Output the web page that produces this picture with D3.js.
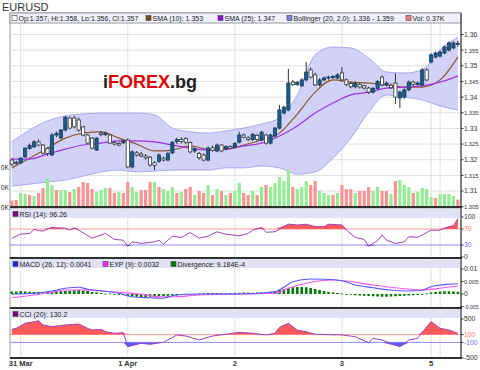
<!DOCTYPE html>
<html>
<head>
<meta charset="utf-8">
<script src="https://cdn.jsdelivr.net/npm/d3@7"></script>
<style>
body { margin: 0; background: #fff; }
svg { display: block; }
text { font-family: "Liberation Sans", Arial, sans-serif; }
</style>
</head>
<body>
<script>

// ---- data (hourly EURUSD bars) ----
var open = [1.3199,1.3189,1.3190,1.3209,1.3236,1.3241,1.3257,1.3247,1.3236,1.3215,
  1.3279,1.3270,1.3295,1.3333,1.3333,1.3327,1.3305,1.3279,1.3269,1.3231,
  1.3285,1.3280,1.3279,1.3255,1.3252,1.3254,1.3263,1.3177,1.3222,1.3218,
  1.3212,1.3208,1.3190,1.3195,1.3205,1.3199,1.3222,1.3258,1.3265,1.3268,
  1.3255,1.3228,1.3220,1.3215,1.3199,1.3238,1.3228,1.3247,1.3235,1.3242,
  1.3240,1.3256,1.3279,1.3270,1.3265,1.3278,1.3263,1.3279,1.3253,1.3276,
  1.3301,1.3349,1.3359,1.3448,1.3440,1.3436,1.3455,1.3487,1.3471,1.3439,
  1.3455,1.3461,1.3463,1.3461,1.3477,1.3455,1.3444,1.3433,1.3440,1.3436,
  1.3429,1.3416,1.3428,1.3464,1.3439,1.3438,1.3445,1.3397,1.3400,1.3423,
  1.3448,1.3440,1.3439,1.3487,1.3512,1.3528,1.3531,1.3541,1.3550,1.3557,1.3570];
var high = [1.3205,1.3197,1.3208,1.3240,1.3252,1.3263,1.3265,1.3250,1.3240,1.3285,
  1.3290,1.3298,1.3340,1.3338,1.3340,1.3335,1.3308,1.3282,1.3272,1.3272,
  1.3292,1.3290,1.3282,1.3260,1.3256,1.3264,1.3268,1.3230,1.3228,1.3225,
  1.3218,1.3212,1.3195,1.3220,1.3210,1.3225,1.3260,1.3270,1.3272,1.3272,
  1.3258,1.3240,1.3225,1.3220,1.3242,1.3245,1.3252,1.3250,1.3246,1.3246,
  1.3256,1.3290,1.3284,1.3275,1.3286,1.3283,1.3292,1.3283,1.3283,1.3305,
  1.3375,1.3372,1.3490,1.3455,1.3452,1.3460,1.3512,1.3495,1.3478,1.3460,
  1.3466,1.3468,1.3470,1.3476,1.3496,1.3460,1.3450,1.3450,1.3446,1.3440,
  1.3433,1.3432,1.3455,1.3470,1.3450,1.3443,1.3476,1.3420,1.3428,1.3453,
  1.3452,1.3450,1.3492,1.3492,1.3540,1.3546,1.3549,1.3565,1.3578,1.3578,1.3580];
var low = [1.3180,1.3184,1.3187,1.3205,1.3232,1.3238,1.3243,1.3216,1.3212,1.3212,
  1.3272,1.3265,1.3290,1.3298,1.3300,1.3290,1.3275,1.3250,1.3233,1.3228,
  1.3275,1.3276,1.3250,1.3246,1.3243,1.3250,1.3172,1.3172,1.3210,1.3208,
  1.3200,1.3178,1.3167,1.3190,1.3195,1.3195,1.3218,1.3250,1.3252,1.3250,
  1.3220,1.3222,1.3200,1.3195,1.3195,1.3226,1.3224,1.3224,1.3230,1.3233,
  1.3236,1.3252,1.3268,1.3260,1.3260,1.3260,1.3259,1.3248,1.3249,1.3272,
  1.3297,1.3345,1.3355,1.3435,1.3436,1.3432,1.3450,1.3460,1.3435,1.3435,
  1.3450,1.3456,1.3458,1.3457,1.3450,1.3435,1.3428,1.3428,1.3427,1.3424,
  1.3410,1.3412,1.3424,1.3434,1.3434,1.3426,1.3378,1.3365,1.3395,1.3419,
  1.3435,1.3436,1.3435,1.3450,1.3508,1.3524,1.3527,1.3537,1.3546,1.3553,1.3562];
var close = [1.3186,1.3192,1.3205,1.3237,1.3246,1.3257,1.3247,1.3221,1.3220,1.3279,
  1.3284,1.3295,1.3336,1.3301,1.3305,1.3295,1.3279,1.3253,1.3237,1.3269,
  1.3280,1.3286,1.3253,1.3250,1.3247,1.3260,1.3177,1.3225,1.3215,1.3212,
  1.3206,1.3183,1.3182,1.3215,1.3199,1.3220,1.3256,1.3264,1.3258,1.3255,
  1.3225,1.3235,1.3206,1.3199,1.3237,1.3230,1.3247,1.3228,1.3242,1.3237,
  1.3252,1.3279,1.3272,1.3264,1.3281,1.3265,1.3288,1.3253,1.3279,1.3301,
  1.3359,1.3368,1.3445,1.3440,1.3447,1.3455,1.3480,1.3464,1.3439,1.3455,
  1.3461,1.3464,1.3466,1.3471,1.3455,1.3440,1.3433,1.3444,1.3432,1.3429,
  1.3416,1.3428,1.3450,1.3439,1.3445,1.3430,1.3400,1.3416,1.3423,1.3448,
  1.3440,1.3445,1.3487,1.3455,1.3535,1.3541,1.3544,1.3560,1.3573,1.3573,1.3572];

// volume in thousands, and whether the bar is drawn green (1) or red (0)
var volume = [0.32,0.35,0.70,0.65,0.60,0.55,0.70,0.95,1.45,1.10,
  0.85,0.85,0.85,0.75,0.90,1.00,1.25,1.20,0.90,0.75,
  0.85,0.95,0.95,0.70,0.75,0.70,1.25,1.00,0.75,0.85,
  0.85,1.25,1.25,1.00,0.90,0.80,1.00,0.70,0.75,0.90,
  1.00,0.60,0.80,0.70,1.10,0.60,0.90,0.80,0.60,0.70,
  0.80,1.20,0.70,0.60,0.80,0.60,1.00,1.10,1.00,1.20,
  1.50,1.30,1.85,1.00,0.90,1.00,1.30,1.10,1.30,0.80,
  0.70,0.60,0.60,0.70,1.10,0.90,0.90,0.70,0.80,0.80,
  1.00,0.80,1.00,0.80,0.80,0.65,1.30,1.35,1.10,1.00,
  0.70,0.75,0.95,0.90,0.50,0.45,0.65,0.65,0.65,0.55,0.37];
var volUp = [0,0,1,1,0,1,0,0,1,1, 0,1,1,0,1,0,0,0,0,1,
  1,1,0,0,1,0,0,1,1,0, 0,0,1,0,1,1,1,0,1,0,
  0,1,0,0,1,0,1,0,1,0, 1,1,0,0,1,0,1,0,1,1,
  1,1,1,0,1,1,1,0,0,1, 1,1,0,1,0,0,0,1,0,0,
  0,1,1,0,0,1,0,1,1,1, 0,1,1,1,1,0,1,1,1,1,0];

// indicator lines, sampled along the bar index
var bandIdx = [0,4,8,12,16,20,24,28,32,36,40,44,48,52,56,60,64,68,72,76,80,84,88,92,96,100];
var sma10 = [1.3174,1.3205,1.3237,1.3269,1.3285,1.3289,1.3269,1.3250,1.3228,1.3231,1.3244,1.3234,1.3234,
  1.3247,1.3263,1.3285,1.3346,1.3416,1.3455,1.3448,1.3445,1.3439,1.3432,1.3432,1.3455,1.3528];
var sma25 = [1.3202,1.3202,1.3218,1.3234,1.3247,1.3253,1.3260,1.3260,1.3257,1.3247,1.3237,1.3231,1.3234,
  1.3244,1.3253,1.3276,1.3308,1.3349,1.3381,1.3407,1.3416,1.3429,1.3432,1.3436,1.3448,1.3467];
var bbUpper = [1.3257,1.3295,1.3324,1.3340,1.3346,1.3349,1.3349,1.3349,1.3343,1.3301,1.3289,1.3285,1.3292,
  1.3301,1.3314,1.3333,1.3407,1.3535,1.3560,1.3557,1.3525,1.3480,1.3477,1.3487,1.3551,1.3592];
var bbLower = [1.3116,1.3122,1.3129,1.3135,1.3148,1.3161,1.3167,1.3161,1.3164,1.3167,1.3167,1.3167,1.3174,
  1.3174,1.3180,1.3174,1.3154,1.3161,1.3205,1.3269,1.3352,1.3407,1.3400,1.3391,1.3372,1.3359];

var rsiIdx = [0,2,4,5,6,7,9,10,12,13,14,15,18,21,23,25,26,27,29,32,33,34,36,38,40,42,44,46,48,51,
  53,54,56,57,59,62,64,66,68,70,71,74,75,77,79,80,82,83,84,86,88,89,91,93,94,96,98,99,100];
var rsi = [47,57,59,69,66,65,74,73,72,67,73,67,47,59,44,42,27,38,34,38,42,32,52,49,61,47,52,63,57,53,
  59,67,74,62,63,82,80,82,76,76,82,80,67,49,44,27,41,55,42,34,38,51,49,61,67,67,76,78,96.3];

var macdIdx = [0,5,9,12,15,17,20,24,27,31,34,36,39,44,51,59,61,63,67,70,74,77,81,85,89,92,94,98,100];
var macd = [-0.0001,0.0003,0.0012,0.0023,0.0027,0.0019,0.0013,0.0003,-0.0011,-0.0015,-0.0017,-0.0007,
  -0.0001,0,0,0.0009,0.0027,0.0049,0.0060,0.0059,0.0053,0.0036,0.0025,0.0016,0.0012,0.0016,0.0029,0.0039,0.0041];
var sigIdx = [0,5,9,12,17,20,24,29,33,36,42,51,59,62,66,72,75,81,87,92,96,100];
var signal = [-0.0015,-0.0004,0.0007,0.0016,0.0016,0.0012,0.0007,-0.0001,-0.0011,-0.0011,-0.0004,0,
  0.0003,0.0023,0.0043,0.0056,0.0052,0.0036,0.0023,0.0016,0.0023,0.0032];
var divergence = [0.0010,0.0010,0.0011,0.0010,0.0009,0.0008,0.0008,0.0007,0.0008,0.0009,
  0.0010,0.0011,0.0012,0.0013,0.0015,0.0016,0.0014,0.0012,0.0008,0.0006,
  0.0004,0.0001,0.0002,0.0000,-0.0002,-0.0004,-0.0007,-0.0009,-0.0011,-0.0012,
  -0.0012,-0.0011,-0.0010,-0.0009,-0.0008,-0.0007,-0.0006,-0.0005,-0.0004,-0.0003,
  -0.0002,-0.0001,0.0002,0.0003,0.0004,0.0004,0.0004,0.0003,0.0003,0.0004,
  0.0005,0.0005,0.0006,0.0006,0.0005,0.0006,0.0006,0.0007,0.0009,0.0012,
  0.0016,0.0020,0.0025,0.0027,0.0028,0.0028,0.0027,0.0024,0.0020,0.0016,
  0.0012,0.0008,0.0006,0.0004,0.0002,0.0000,-0.0003,-0.0005,-0.0006,-0.0007,
  -0.0008,-0.0009,-0.0010,-0.0011,-0.0011,-0.0010,-0.0009,-0.0008,-0.0007,-0.0006,
  -0.0005,-0.0004,-0.0001,0.0002,0.0006,0.0008,0.0010,0.0011,0.0011,0.0010,0.0009];

var cciIdx = [0,1,3,5,6,7,9,12,15,17,18,20,21,23,25,26,29,31,34,37,39,42,45,48,51,54,57,59,60,62,
  64,66,68,74,77,80,81,83,87,89,91,92,94,96,98,100];
var cci = [236,262,390,431,456,346,303,346,372,262,218,236,174,133,149,-210,-123,-149,-97,90,64,-38,64,108,159,133,90,133,287,390,
  218,174,108,90,46,-108,5,-38,-210,-38,5,159,431,262,218,130];

// axes
var priceTicks = [1.305,1.31,1.315,1.32,1.325,1.33,1.335,1.34,1.345,1.35,1.355,1.36];
var volTicks = [0,1,2];
var volTickLabels = ["0K","0K","0K"];   // only the tail of these labels shows in the source
var rsiTicks = [0,30,70,100];
var macdTicks = [-0.005,0,0.005,0.01];
var cciTicks = [-500,-100,100,500];
var dayIdx = [2,26,50,74,94,96];
var dayLabels = ["31 Mar","1 Apr","2","3","5",""];

var legendMain = ["Op:1.357, Hi:1.358, Lo:1.356, Cl:1.357","SMA (10): 1.353","SMA (25): 1.347",
  "Bollinger (20, 2.0): 1.336 - 1.359","Vol: 0.37K"];

function main() {
    var width = 480, height = 370;
    var left = 10, right = 461;
    var upCol = "#1d5c8a";

    var svg = d3.select("body").append("svg")
        .attr("width", width).attr("height", height);

    var x = d3.scaleLinear().domain([-0.4, 100.7]).range([left, right]);
    var idx = d3.range(open.length);

    var panels = {
        main: {top: 13, bottom: 207},
        rsi: {top: 208, bottom: 258},
        macd: {top: 258, bottom: 308},
        cci: {top: 308, bottom: 358}
    };

    var y = d3.scaleLinear().domain([1.305, 1.36]).range([206.7, 34.5]);
    var yv = d3.scaleLinear().domain([0, 2]).range([207, 167]);
    var yr = d3.scaleLinear().domain([0, 100]).range([257, 217]);
    var ym = d3.scaleLinear().domain([-0.005, 0.01]).range([306.5, 269]);
    var yc = d3.scaleLinear().domain([-500, 500]).range([358, 319]);

    svg.append("text").attr("x", 2).attr("y", 11)
        .attr("font-size", "11px").attr("fill", "#333").text("EURUSD");

    // panel backgrounds + vertical grid
    Object.keys(panels).forEach(function (k) {
        var p = panels[k];
        svg.append("rect").attr("x", left).attr("y", p.top)
            .attr("width", right - left).attr("height", p.bottom - p.top)
            .attr("fill", "#fff").attr("stroke", "#999").attr("stroke-width", 1);
        svg.append("g").selectAll("line").data(dayIdx).enter().append("line")
            .attr("x1", function (d) { return x(d); }).attr("x2", function (d) { return x(d); })
            .attr("y1", p.top).attr("y2", p.bottom)
            .attr("stroke", "#e0e0e0");
    });

    // horizontal grid in price panel
    svg.append("g").selectAll("line").data(priceTicks).enter().append("line")
        .attr("x1", left).attr("x2", right)
        .attr("y1", function (d) { return y(d); }).attr("y2", function (d) { return y(d); })
        .attr("stroke", "#e0e0e0");

    // bollinger band
    var band = d3.area().curve(d3.curveMonotoneX)
        .x(function (d, i) { return x(bandIdx[i]); })
        .y0(function (d, i) { return y(bbLower[i]); })
        .y1(function (d, i) { return y(bbUpper[i]); });
    svg.append("path").datum(bandIdx).attr("d", band)
        .attr("fill", "#d2d2f9");
    [bbUpper, bbLower].forEach(function (arr) {
        svg.append("path").datum(arr)
            .attr("d", d3.line().curve(d3.curveMonotoneX)
                .x(function (d, i) { return x(bandIdx[i]); })
                .y(function (d) { return y(d); }))
            .attr("fill", "none").attr("stroke", "#a8a8f0").attr("stroke-width", 1);
    });

    // watermark
    var wm = svg.append("text").attr("x", 103).attr("y", 88)
        .attr("font-size", "18px").attr("font-weight", "bold");
    wm.append("tspan").attr("fill", "#222").text("i");
    wm.append("tspan").attr("fill", "#e00000").text("FOREX");
    wm.append("tspan").attr("fill", "#222").text(".bg");

    // volume
    svg.append("g").selectAll("rect").data(idx).enter().append("rect")
        .attr("x", function (i) { return x(i) - 1.6; })
        .attr("width", 3.2)
        .attr("y", function (i) { return yv(volume[i]); })
        .attr("height", function (i) { return yv(0) - yv(volume[i]); })
        .attr("fill", function (i) { return volUp[i] ? "#94ec94" : "#f79494"; });

    // moving averages
    [[sma10, "#8b5a2b"], [sma25, "#a030e8"]].forEach(function (s) {
        svg.append("path").datum(s[0])
            .attr("d", d3.line().curve(d3.curveMonotoneX)
                .x(function (d, i) { return x(bandIdx[i]); })
                .y(function (d) { return y(d); }))
            .attr("fill", "none").attr("stroke", s[1]).attr("stroke-width", 1.2);
    });

    // candles
    var cg = svg.append("g");
    cg.selectAll("line").data(idx).enter().append("line")
        .attr("x1", function (i) { return x(i); }).attr("x2", function (i) { return x(i); })
        .attr("y1", function (i) { return y(high[i]); }).attr("y2", function (i) { return y(low[i]); })
        .attr("stroke", "#333").attr("stroke-width", 1);
    cg.selectAll("rect").data(idx).enter().append("rect")
        .attr("x", function (i) { return x(i) - 1.6; })
        .attr("width", 3.2)
        .attr("y", function (i) { return y(Math.max(open[i], close[i])); })
        .attr("height", function (i) { return Math.max(1, Math.abs(y(open[i]) - y(close[i]))); })
        .attr("fill", function (i) { return close[i] >= open[i] ? upCol : "#fff"; })
        .attr("stroke", function (i) { return close[i] >= open[i] ? "#163f5e" : "#333"; })
        .attr("stroke-width", 0.8);

    // legend strip of main panel
    svg.append("rect").attr("x", left).attr("y", 13).attr("width", right - left).attr("height", 10)
        .attr("fill", "#f0f0fe").attr("stroke", "#999");
    var legX = [12, 146, 218, 287, 406];
    var legCol = ["#fff", "#7a4a1e", "#9900e0", "#7f7fe0", "#f08080"];
    legendMain.forEach(function (t, i) {
        svg.append("rect").attr("x", legX[i]).attr("y", 15.5).attr("width", 5).attr("height", 5)
            .attr("fill", legCol[i]).attr("stroke", "#444").attr("stroke-width", 0.6);
        svg.append("text").attr("x", legX[i] + 6.5).attr("y", 20.5)
            .attr("font-size", "7px").attr("fill", "#222").text(t);
    });

    // sub-panel headers
    function header(p, items) {
        svg.append("rect").attr("x", left).attr("y", p.top + 1).attr("width", right - left).attr("height", 9)
            .attr("fill", "#e2e2f7");
        items.forEach(function (it) {
            svg.append("rect").attr("x", it[0]).attr("y", p.top + 3.5).attr("width", 5).attr("height", 5)
                .attr("fill", it[1]).attr("stroke", "#444").attr("stroke-width", 0.6);
            svg.append("text").attr("x", it[0] + 6.5).attr("y", p.top + 8.5)
                .attr("font-size", "7px").attr("fill", "#222").text(it[2]);
        });
    }

    // RSI
    var rp = panels.rsi;
    header(rp, [[13, "#800080", "RSI (14): 96.26"]]);
    svg.append("line").attr("x1", left).attr("x2", right).attr("y1", yr(70)).attr("y2", yr(70))
        .attr("stroke", "#ff9a9a");
    svg.append("line").attr("x1", left).attr("x2", right).attr("y1", yr(30)).attr("y2", yr(30))
        .attr("stroke", "#8c8cff");
    svg.append("path").datum(rsi)
        .attr("d", d3.area().x(function (d, i) { return x(rsiIdx[i]); })
            .y0(yr(70)).y1(function (d) { return yr(Math.max(d, 70)); }))
        .attr("fill", "#ff5a5a");
    svg.append("path").datum(rsi)
        .attr("d", d3.area().x(function (d, i) { return x(rsiIdx[i]); })
            .y0(yr(30)).y1(function (d) { return yr(Math.min(d, 30)); }))
        .attr("fill", "#5a5aff");
    svg.append("path").datum(rsi)
        .attr("d", d3.line().x(function (d, i) { return x(rsiIdx[i]); }).y(function (d) { return yr(d); }))
        .attr("fill", "none").attr("stroke", "#a040c0").attr("stroke-width", 1);

    // MACD
    var mp = panels.macd;
    header(mp, [[13, "#2020ff", "MACD (26, 12): 0.0041"], [103, "#ff20ff", "EXP (9): 0.0032"],
        [171, "#008000", "Divergence: 9.184E-4"]]);
    svg.append("g").selectAll("rect").data(idx).enter().append("rect")
        .attr("x", function (i) { return x(i) - 1.3; })
        .attr("width", 2.6)
        .attr("y", function (i) { return Math.min(ym(0), ym(divergence[i])); })
        .attr("height", function (i) { return Math.max(0.8, Math.abs(ym(divergence[i]) - ym(0))); })
        .attr("fill", "#007a00");
    svg.append("path").datum(signal)
        .attr("d", d3.line().curve(d3.curveMonotoneX)
            .x(function (d, i) { return x(sigIdx[i]); }).y(function (d) { return ym(d); }))
        .attr("fill", "none").attr("stroke", "#ff50ff").attr("stroke-width", 1.2);
    svg.append("path").datum(macd)
        .attr("d", d3.line().curve(d3.curveMonotoneX)
            .x(function (d, i) { return x(macdIdx[i]); }).y(function (d) { return ym(d); }))
        .attr("fill", "none").attr("stroke", "#5a5aff").attr("stroke-width", 1.2);

    // CCI
    var ccp = panels.cci;
    header(ccp, [[13, "#800080", "CCI (20): 130.2"]]);
    svg.append("line").attr("x1", left).attr("x2", right).attr("y1", yc(100)).attr("y2", yc(100))
        .attr("stroke", "#ff9a9a");
    svg.append("line").attr("x1", left).attr("x2", right).attr("y1", yc(-100)).attr("y2", yc(-100))
        .attr("stroke", "#8c8cff");
    svg.append("path").datum(cci)
        .attr("d", d3.area().x(function (d, i) { return x(cciIdx[i]); })
            .y0(yc(100)).y1(function (d) { return yc(Math.max(d, 100)); }))
        .attr("fill", "#ff5a5a");
    svg.append("path").datum(cci)
        .attr("d", d3.area().x(function (d, i) { return x(cciIdx[i]); })
            .y0(yc(-100)).y1(function (d) { return yc(Math.min(d, -100)); }))
        .attr("fill", "#5a5aff");
    svg.append("path").datum(cci)
        .attr("d", d3.line().x(function (d, i) { return x(cciIdx[i]); }).y(function (d) { return yc(d); }))
        .attr("fill", "none").attr("stroke", "#a040c0").attr("stroke-width", 1);

    // bottom axis lines of each panel
    Object.keys(panels).forEach(function (k) {
        svg.append("line").attr("x1", left).attr("x2", right + 1)
            .attr("y1", panels[k].bottom).attr("y2", panels[k].bottom)
            .attr("stroke", "#000").attr("stroke-width", 1.6);
    });
    svg.append("line").attr("x1", right).attr("x2", right).attr("y1", 13).attr("y2", 358)
        .attr("stroke", "#333");

    // right axes
    function rightAxis(scale, ticks, fmt, colorFn) {
        var g = svg.append("g");
        g.selectAll("line").data(ticks).enter().append("line")
            .attr("x1", right).attr("x2", right + 2.5)
            .attr("y1", function (d) { return scale(d); }).attr("y2", function (d) { return scale(d); })
            .attr("stroke", "#333");
        g.selectAll("text").data(ticks).enter().append("text")
            .attr("x", right + 3).attr("y", function (d) { return scale(d) + 2.4; })
            .attr("font-size", "6.8px")
            .attr("fill", function (d) { return colorFn ? colorFn(d) : "#333"; })
            .text(fmt)
            .each(function () {
                // shrink any label that would run past the window edge
                var room = width - right - 4.5;
                var len = this.getComputedTextLength();
                if (len > room) {
                    d3.select(this).attr("font-size", (6.8 * room / len).toFixed(2) + "px");
                }
            });
    }
    rightAxis(y, priceTicks, function (d) { return String(+d.toFixed(3)); });
    rightAxis(yr, rsiTicks, String, function (d) { return d === 70 ? "#ff7070" : d === 30 ? "#7070ff" : "#333"; });
    rightAxis(ym, macdTicks, function (d) { return String(+d.toFixed(3)); });
    rightAxis(yc, cciTicks, String, function (d) { return d === 100 ? "#ff7070" : d === -100 ? "#7070ff" : "#333"; });

    // left volume axis
    svg.append("g").selectAll("text").data(volTicks).enter().append("text")
        .attr("x", 9).attr("y", function (d) { return yv(d) + 2.5; })
        .attr("text-anchor", "end").attr("font-size", "6.8px").attr("fill", "#333")
        .text(function (d, i) { return volTickLabels[i]; });

    // date labels
    svg.append("g").selectAll("text").data(dayIdx).enter().append("text")
        .attr("x", function (d) { return x(d); }).attr("y", 366)
        .attr("text-anchor", "middle").attr("font-size", "7.5px").attr("font-weight", "bold")
        .attr("fill", "#333")
        .text(function (d, i) { return dayLabels[i]; });
}

main();
</script>
</body>
</html>
